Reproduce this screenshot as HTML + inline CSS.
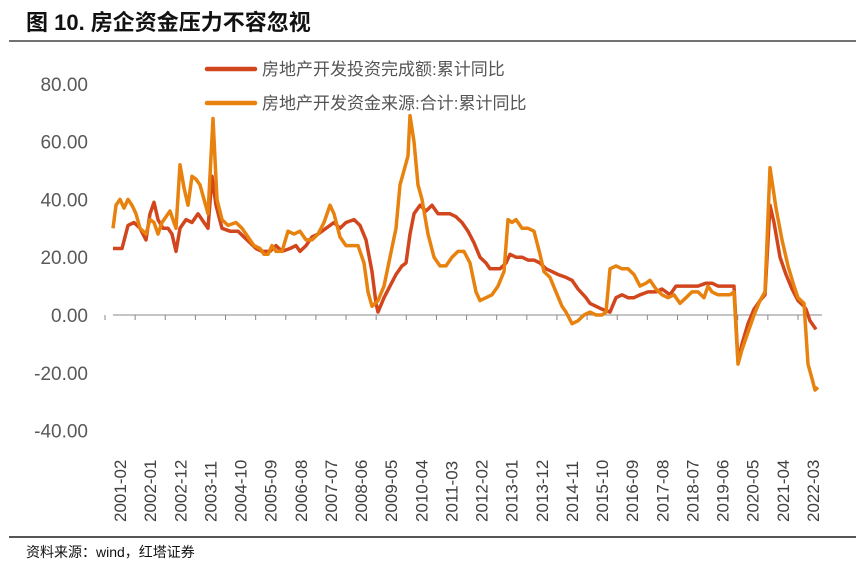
<!DOCTYPE html>
<html><head><meta charset="utf-8"><style>
html,body{margin:0;padding:0;background:#fff;width:865px;height:570px;overflow:hidden}
svg{display:block}
</style></head><body>
<svg id="s" width="865" height="570" xmlns="http://www.w3.org/2000/svg" font-family="Liberation Sans, Noto Sans CJK SC, sans-serif">
<text x="26" y="30" font-size="22" font-weight="bold" fill="#111" font-family="Liberation Sans, Noto Sans CJK SC, sans-serif">图 10. 房企资金压力不容忽视</text>
<line x1="9" y1="41" x2="856" y2="41" stroke="#444" stroke-width="1.5"/>
<line x1="9" y1="537" x2="856" y2="537" stroke="#555" stroke-width="2"/>
<text x="26" y="557" font-size="14" fill="#111" font-family="Liberation Sans, Noto Sans CJK SC, sans-serif">资料来源：wind，红塔证券</text>
<g font-size="19" fill="#595959" text-anchor="end" id="yl"></g>
<line x1="113" y1="315" x2="822" y2="315" stroke="#888" stroke-width="1"/>
<g id="ticks" stroke="#888" stroke-width="1"></g>
<g id="xl" font-size="17" fill="#404040"></g>
<path id="red" fill="none" stroke="#D2461E" stroke-width="3.5" stroke-linejoin="round"/>
<path id="org" fill="none" stroke="#E8820E" stroke-width="3.5" stroke-linejoin="round"/>
<line x1="207" y1="69" x2="255" y2="69" stroke="#D2461E" stroke-width="4.5" stroke-linecap="round"/>
<text x="262" y="75" font-size="17" fill="#555" font-family="Liberation Sans, Noto Sans CJK SC, sans-serif">房地产开发投资完成额:累计同比</text>
<line x1="207" y1="103" x2="255" y2="103" stroke="#E8820E" stroke-width="4.5" stroke-linecap="round"/>
<text x="262" y="109" font-size="17" fill="#555" font-family="Liberation Sans, Noto Sans CJK SC, sans-serif">房地产开发资金来源:合计:累计同比</text>
</svg>
<script>
var ns="http://www.w3.org/2000/svg";
function Y(v){return 315-v*2.89;}
var yl=document.getElementById('yl');
[80,60,40,20,0,-20,-40].forEach(function(v){var t=document.createElementNS(ns,'text');t.setAttribute('x',88);t.setAttribute('y',Y(v)+7);t.textContent=v.toFixed(2);yl.appendChild(t);});
var labs=["2001-02","2002-01","2002-12","2003-11","2004-10","2005-09","2006-08","2007-07","2008-06","2009-05","2010-04","2011-03","2012-02","2013-01","2013-12","2014-11","2015-10","2016-09","2017-08","2018-07","2019-06","2020-05","2021-04","2022-03"];
var xl=document.getElementById('xl'),tk=document.getElementById('ticks');
labs.forEach(function(l,i){var x=120+i*30.13;var t=document.createElementNS(ns,'text');t.setAttribute('transform','translate('+(x+6)+',522) rotate(-90)');t.textContent=l;xl.appendChild(t);
var ln=document.createElementNS(ns,'line');ln.setAttribute('x1',x-15);ln.setAttribute('x2',x-15);ln.setAttribute('y1',315);ln.setAttribute('y2',320);tk.appendChild(ln);});
var red=[[113,23],[122,23],[128,31],[134,32],[140,30],[146,26],[150,35],[154,39],[158,33],[163,30],[168,30],[172,28],[176,22],[180,30],[186,33],[192,32],[198,35],[204,32],[208,30],[212,48],[216,38],[222,30],[230,29],[238,29],[244,27],[250,25],[256,23],[262,22],[270,22],[276,24],[282,22],[290,23],[296,24],[300,22],[306,24],[312,27],[318,28],[326,30],[334,32],[340,30],[346,32],[354,33],[360,31],[366,26],[372,15],[376,4],[378,1],[384,6],[390,10],[396,14],[402,17],[406,18],[410,28],[414,35],[420,38],[426,36],[432,38],[438,35],[444,35],[450,35],[456,34],[462,32],[468,29],[474,25],[480,20],[486,18],[490,16],[500,16],[506,18],[510,21],[516,20],[522,20],[528,19],[534,19],[540,18],[546,16],[552,15],[558,14],[566,13],[572,12],[578,9],[586,6],[590,4],[596,3],[602,2],[610,1],[616,6],[622,7],[628,6],[634,6],[640,7],[648,8],[656,8],[662,9],[670,7],[676,10],[682,10],[690,10],[698,10],[706,11],[712,11],[718,10],[722,10],[730,10],[734,10],[738,-16],[742,-10],[748,-3],[754,2],[760,5],[765,7],[770,38],[774,32],[780,20],[786,14],[792,9],[798,5],[804,3],[806,2],[810,-2],[816,-5]];
var org=[[113,30],[116,38],[120,40],[124,37],[128,40],[132,38],[136,35],[140,30],[146,28],[150,33],[154,32],[158,28],[162,32],[166,34],[170,36],[176,30],[180,52],[184,44],[188,38],[192,48],[196,47],[200,45],[204,40],[208,35],[213,68],[217,40],[222,33],[228,31],[236,32],[242,30],[248,27],[254,24],[260,23],[264,21],[268,21],[272,24],[276,22],[282,22],[288,29],[294,28],[300,29],[306,26],[312,26],[318,28],[324,32],[330,38],[334,35],[340,27],[346,24],[352,24],[358,24],[364,18],[368,8],[372,3],[378,5],[384,10],[390,20],[396,30],[400,45],[404,50],[408,55],[410,69],[414,60],[418,45],[422,40],[428,28],[434,20],[440,17],[446,17],[452,20],[458,22],[464,22],[470,18],[476,8],[480,5],[486,6],[492,7],[498,10],[504,15],[508,33],[512,32],[516,33],[522,30],[528,30],[534,29],[540,21],[544,15],[550,13],[556,8],[562,3],[566,1],[572,-3],[578,-2],[584,0],[590,1],[596,0],[602,0],[606,1],[610,16],[616,17],[622,16],[628,16],[634,14],[640,10],[646,11],[650,12],[656,9],[662,7],[668,6],[674,7],[680,4],[686,6],[692,8],[698,8],[704,6],[708,10],[712,8],[718,7],[724,7],[730,7],[734,8],[738,-17],[742,-12],[748,-6],[754,0],[760,5],[765,8],[770,51],[776,37],[782,26],[788,17],[794,10],[798,6],[804,4],[808,-17],[812,-22],[815,-26],[818,-25]];
function d(a){return a.map(function(p,i){return (i?'L':'M')+p[0]+' '+Y(p[1]).toFixed(1);}).join(' ');}
document.getElementById('red').setAttribute('d',d(red));
document.getElementById('org').setAttribute('d',d(org));
</script>
</body></html>
